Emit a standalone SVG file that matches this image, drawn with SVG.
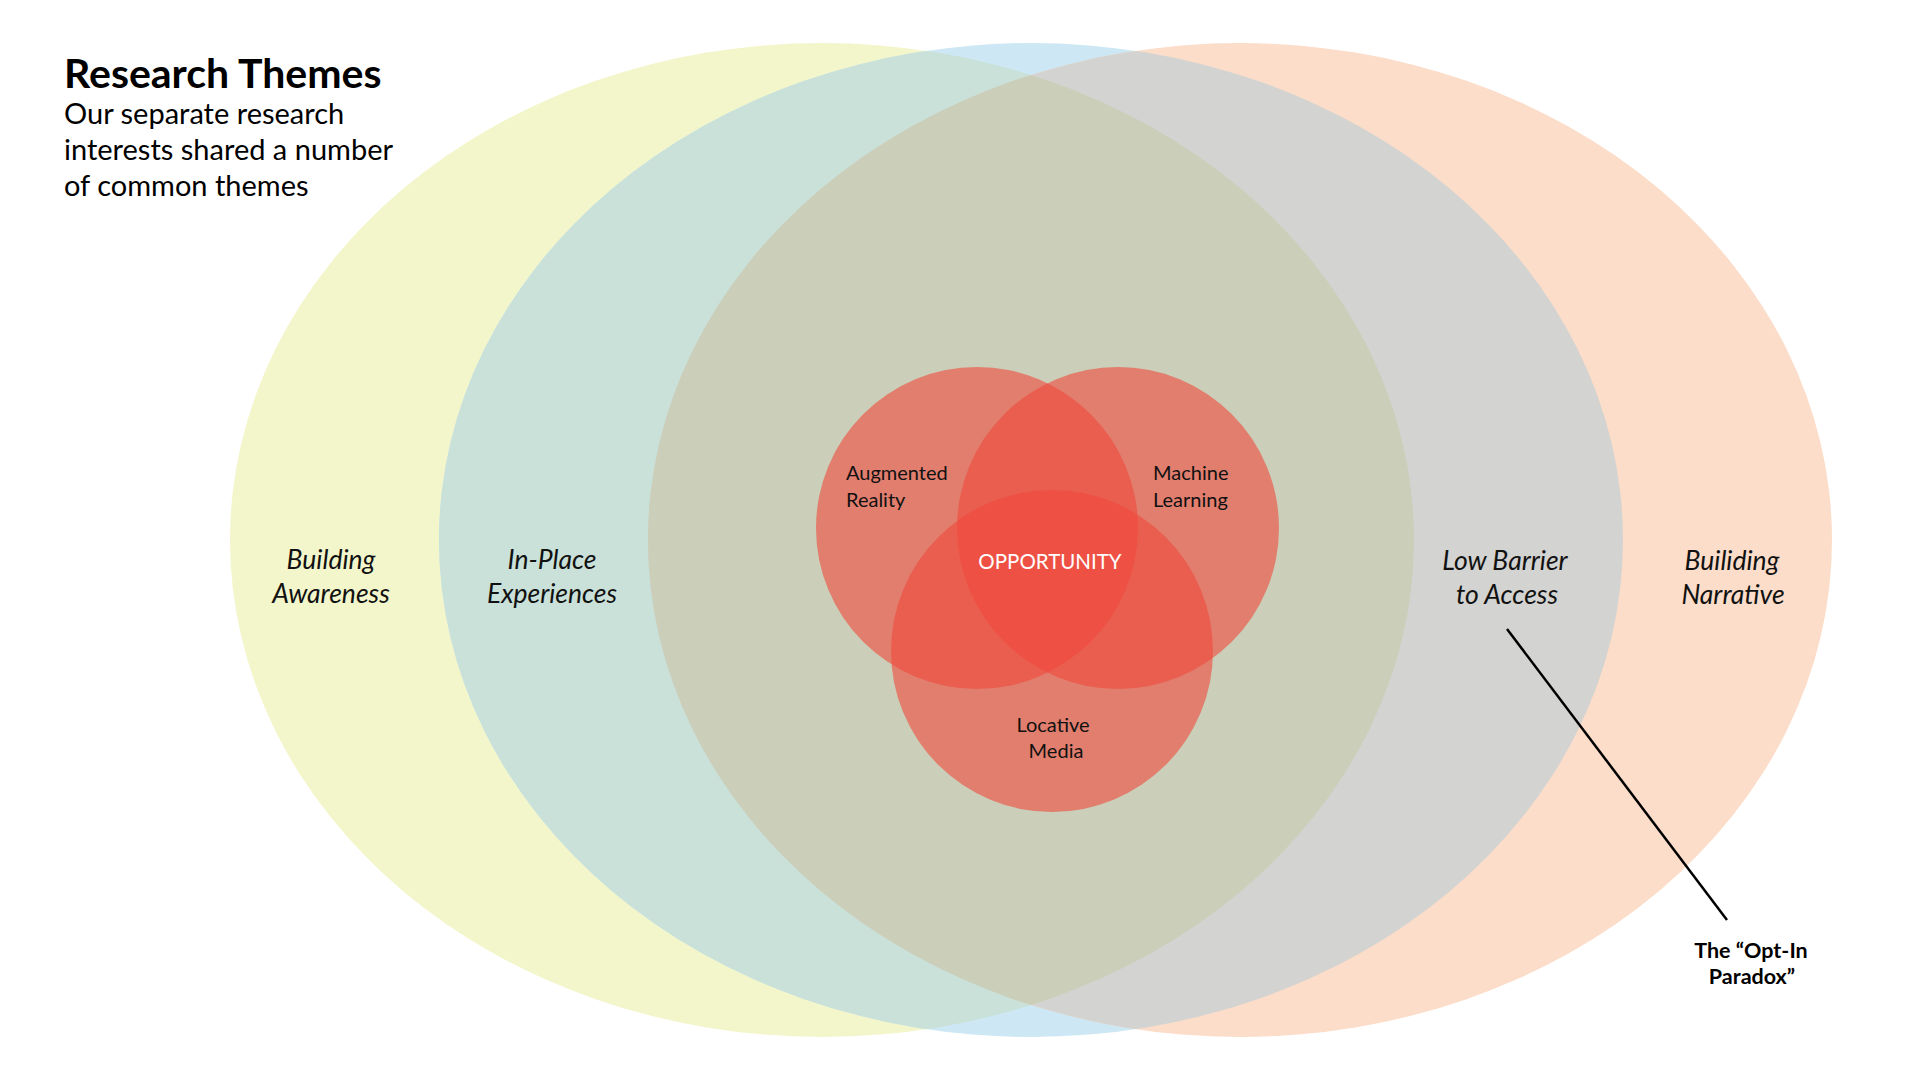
<svg xmlns="http://www.w3.org/2000/svg" width="1920" height="1080" viewBox="0 0 1920 1080">
<style>
.title{font-family:Lato,"Liberation Sans",sans-serif;font-weight:700;font-size:41px;fill:#000}
.sub{font-family:Lato,"Liberation Sans",sans-serif;font-size:29px;fill:#000}
.theme{font-family:Lato,"Liberation Sans",sans-serif;font-style:italic;font-size:26.5px;fill:#111;text-anchor:middle}
.topic{font-family:Lato,"Liberation Sans",sans-serif;font-size:20px;fill:#111}
.opp{font-family:Lato,"Liberation Sans",sans-serif;font-size:20.5px;fill:#fff;text-anchor:middle}
.note{font-family:Lato,"Liberation Sans",sans-serif;font-weight:700;font-size:21.5px;fill:#000;text-anchor:middle}
.red{fill:#F04A3C;fill-opacity:0.6}
</style>
<defs>
<clipPath id="clipY"><ellipse cx="822" cy="540" rx="592" ry="497"/></clipPath>
<clipPath id="clipO"><ellipse cx="1240" cy="540" rx="592" ry="497"/></clipPath>
</defs>
<rect width="1920" height="1080" fill="#fff"/>
<g id="building-awareness">
<ellipse cx="822" cy="540" rx="592" ry="497" fill="#F3F6CB"/>
</g>
<g id="in-place-experiences">
<ellipse cx="1031" cy="540" rx="592" ry="497" fill="#CDE8F4"/>
</g>
<g id="building-narrative">
<ellipse cx="1240" cy="540" rx="592" ry="497" fill="#FBDDC9"/>
</g>
<g id="overlaps">
<ellipse cx="1031" cy="540" rx="592" ry="497" fill="#C9E1D8" clip-path="url(#clipY)"/>
<ellipse cx="1031" cy="540" rx="592" ry="497" fill="#D3D3D1" clip-path="url(#clipO)"/>
<g clip-path="url(#clipY)"><ellipse cx="1240" cy="540" rx="592" ry="497" fill="#CBCEB8"/></g>
</g>
<g id="labels-themes">
<text class="theme" x="331" y="569">Building</text>
<text class="theme" x="331" y="603">Awareness</text>
<text class="theme" x="552" y="569">In-Place</text>
<text class="theme" x="552" y="603">Experiences</text>
<text class="theme" x="1505" y="570">Low Barrier</text>
<text class="theme" x="1507" y="604">to Access</text>
<text class="theme" x="1732" y="570">Builiding</text>
<text class="theme" x="1733" y="604">Narrative</text>
</g>
<g id="augmented-reality">
<circle class="red" cx="977" cy="528" r="161"/>
</g>
<g id="machine-learning">
<circle class="red" cx="1118" cy="528" r="161"/>
</g>
<g id="locative-media">
<circle class="red" cx="1052" cy="651" r="161"/>
</g>
<g id="topic-labels">
<text class="topic" x="846" y="480">Augmented</text>
<text class="topic" x="846" y="507">Reality</text>
<text class="topic" x="1153" y="480">Machine</text>
<text class="topic" x="1153" y="507">Learning</text>
<text class="topic" x="1053" y="732" text-anchor="middle">Locative</text>
<text class="topic" x="1056" y="758" text-anchor="middle">Media</text>
<text class="opp" x="1050" y="569">OPPORTUNITY</text>
</g>
<g id="connectors">
<line x1="1507" y1="629" x2="1727" y2="920" stroke="#000" stroke-width="2.5"/>
</g>
<g id="opt-in-paradox">
<text class="note" x="1751" y="958">The “Opt-In</text>
<text class="note" x="1752" y="984">Paradox”</text>
</g>
<g id="title">
<text class="title" x="64" y="88">Research Themes</text>
<text class="sub" x="64" y="124">Our separate research</text>
<text class="sub" x="64" y="160">interests shared a number</text>
<text class="sub" x="64" y="196">of common themes</text>
</g>
</svg>
